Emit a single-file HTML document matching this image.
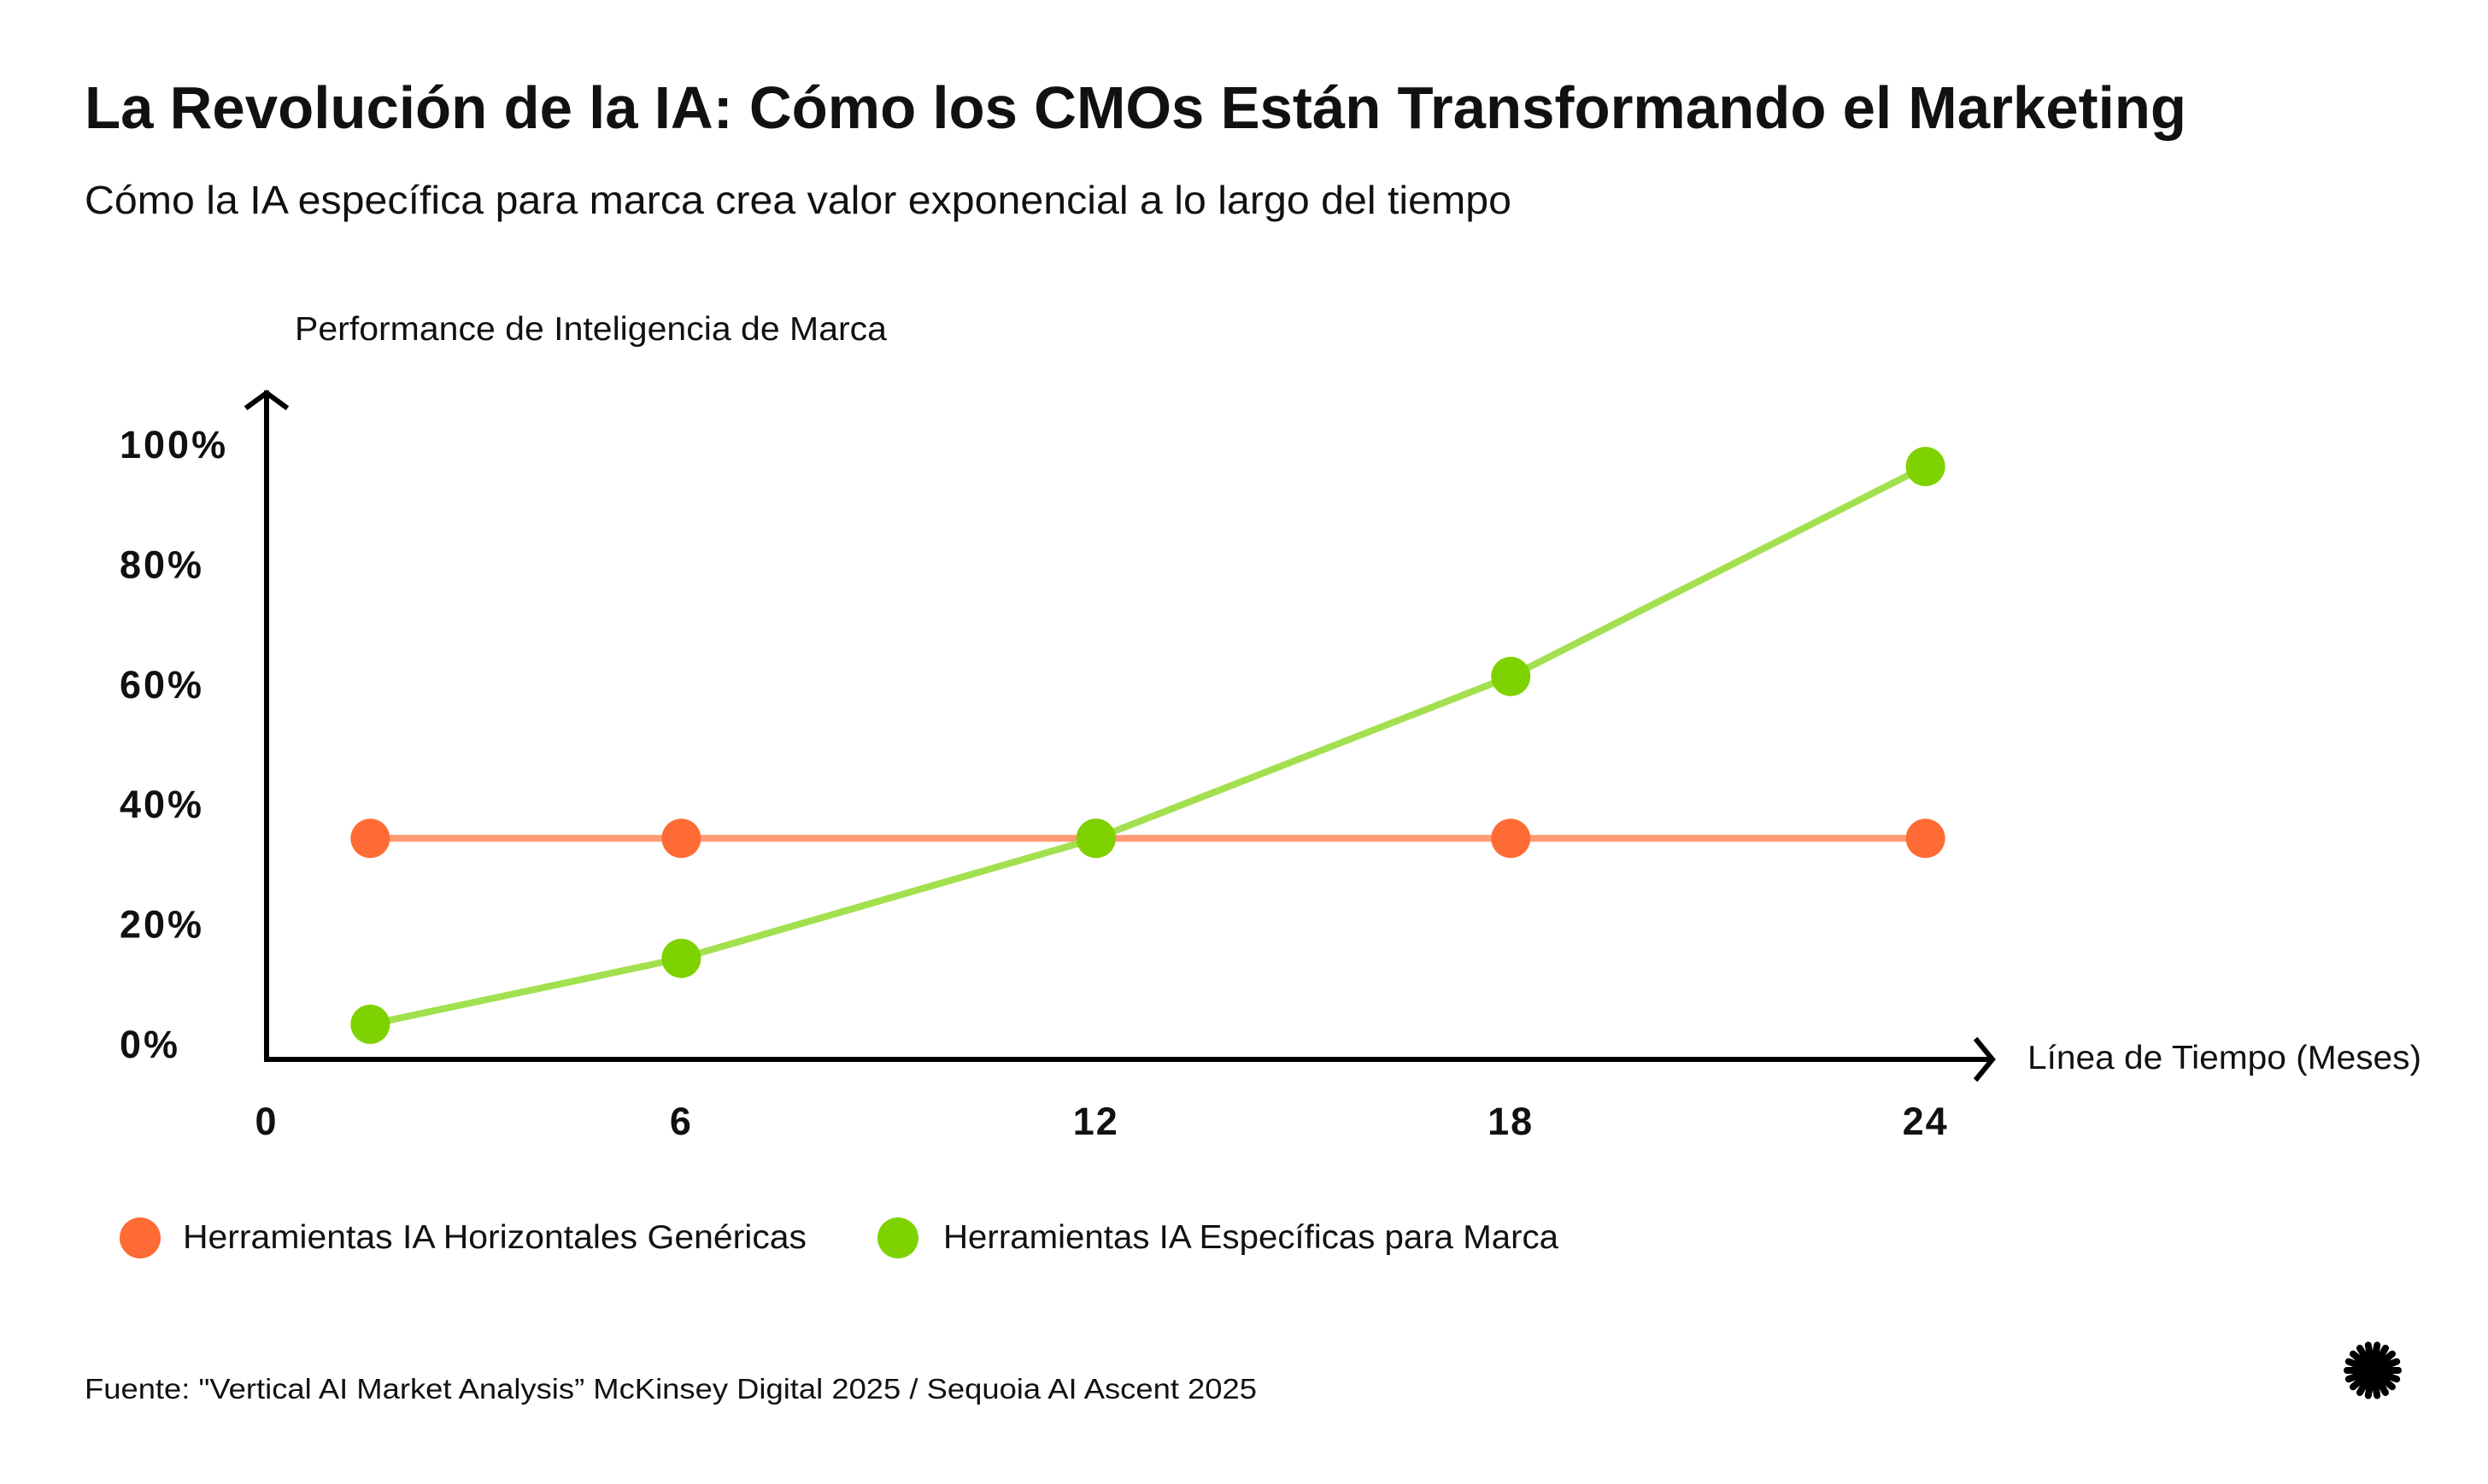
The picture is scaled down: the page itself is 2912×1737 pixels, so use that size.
<!DOCTYPE html>
<html><head><meta charset="utf-8"><style>
html,body{margin:0;padding:0;background:#fff;}
svg{display:block;font-family:"Liberation Sans",sans-serif;}
</style></head><body>
<svg id="chart" width="2912" height="1737" viewBox="0 0 2912 1737" xmlns="http://www.w3.org/2000/svg">
<text x="99" y="150" font-size="70" font-weight="bold" fill="#111" textLength="2460" lengthAdjust="spacingAndGlyphs">La Revolución de la IA: Cómo los CMOs Están Transformando el Marketing</text>
<text x="99" y="250" font-size="46" fill="#111" textLength="1670" lengthAdjust="spacingAndGlyphs">Cómo la IA específica para marca crea valor exponencial a lo largo del tiempo</text>
<text x="345" y="398" font-size="39" fill="#111" textLength="693" lengthAdjust="spacingAndGlyphs">Performance de Inteligencia de Marca</text>
<g id="axes"></g>
<g id="ticks"></g>
<g id="series"></g>
<text x="2373" y="1251" font-size="39" fill="#111" textLength="461" lengthAdjust="spacingAndGlyphs">Línea de Tiempo (Meses)</text>
<g>
<circle cx="164" cy="1449" r="24" fill="#FF6B35"/>
<text x="214" y="1461" font-size="39" fill="#111" textLength="730" lengthAdjust="spacingAndGlyphs">Herramientas IA Horizontales Genéricas</text>
<circle cx="1051" cy="1449" r="24" fill="#7ED200"/>
<text x="1104" y="1461" font-size="39" fill="#111" textLength="720" lengthAdjust="spacingAndGlyphs">Herramientas IA Específicas para Marca</text>
</g>
<text x="99" y="1637" font-size="33" fill="#111" textLength="1372" lengthAdjust="spacingAndGlyphs">Fuente: "Vertical AI Market Analysis” McKinsey Digital 2025 / Sequoia AI Ascent 2025</text>
<g id="logo"></g>
</svg>
<script>
const months = [1.5, 6, 12, 18, 24];
const genericValues = [35, 35, 35, 35, 35];
const brandValues = [4, 15, 35, 62, 97];
const yTicks = [0, 20, 40, 60, 80, 100];
const yTickLabels = ["0%", "20%", "40%", "60%", "80%", "100%"];
const xTicks = [0, 6, 12, 18, 24];
const xTickLabels = ["0", "6", "12", "18", "24"];

const NS = "http://www.w3.org/2000/svg";
const X0 = 312, XS = 80.9, Y0 = 1227, YS = 7.02;
function xs(m){ return X0 + m * XS; }
function ys(v){ return Y0 - v * YS; }
function mk(tag, attrs, parent){
  const e = document.createElementNS(NS, tag);
  for (const k in attrs) e.setAttribute(k, attrs[k]);
  parent.appendChild(e);
  return e;
}
const axes = document.getElementById('axes');
let el = mk('path', {d:'M312 1240 L312 460 M290 476 L312 460 L334 476', stroke:'#000','stroke-width':6, fill:'none','stroke-linecap':'square'}, axes);


el = mk('path', {d:'M312 1240 L2330 1240 M2314 1218 L2332 1240 L2314 1262', stroke:'#000','stroke-width':6, fill:'none','stroke-linecap':'square'}, axes);



const ticks = document.getElementById('ticks');
yTicks.forEach((v, i) => {
  const t = mk('text', {x:140, y:ys(v)+11, 'font-size':45, 'font-weight':'bold', fill:'#111', 'letter-spacing':3}, ticks);
  t.textContent = yTickLabels[i];
  
  
});
xTicks.forEach((m, i) => {
  const t = mk('text', {x:xs(m), y:1328, 'font-size':45, 'font-weight':'bold', fill:'#111', 'text-anchor':'middle', 'letter-spacing':2}, ticks);
  t.textContent = xTickLabels[i];
  
  
});

const series = document.getElementById('series');
function drawSeries(vals, lineColor, dotColor, name){
  const pts = vals.map((v, i) => xs(months[i]) + ',' + ys(v)).join(' ');
  const pl = mk('polyline', {points:pts, fill:'none', stroke:lineColor, 'stroke-width':8, 'stroke-linejoin':'round'}, series);
  
  
  vals.forEach((v, i) => {
    const c = mk('circle', {cx:xs(months[i]), cy:ys(v), r:23, fill:dotColor}, series);
    
    
  });
}
drawSeries(genericValues, '#FF9A73', '#FF6B35', 'generic');
drawSeries(brandValues, '#A3E04F', '#7ED200', 'brand');

const logo = document.getElementById('logo');
mk('circle', {cx:2777, cy:1604, r:20, fill:'#000'}, logo);
for (let i = 0; i < 18; i++){
  const a = i * Math.PI * 2 / 18;
  mk('line', {x1:2777, y1:1604, x2:2777 + 30*Math.cos(a), y2:1604 + 30*Math.sin(a), stroke:'#000', 'stroke-width':8, 'stroke-linecap':'round'}, logo);
}
</script>
</body></html>
